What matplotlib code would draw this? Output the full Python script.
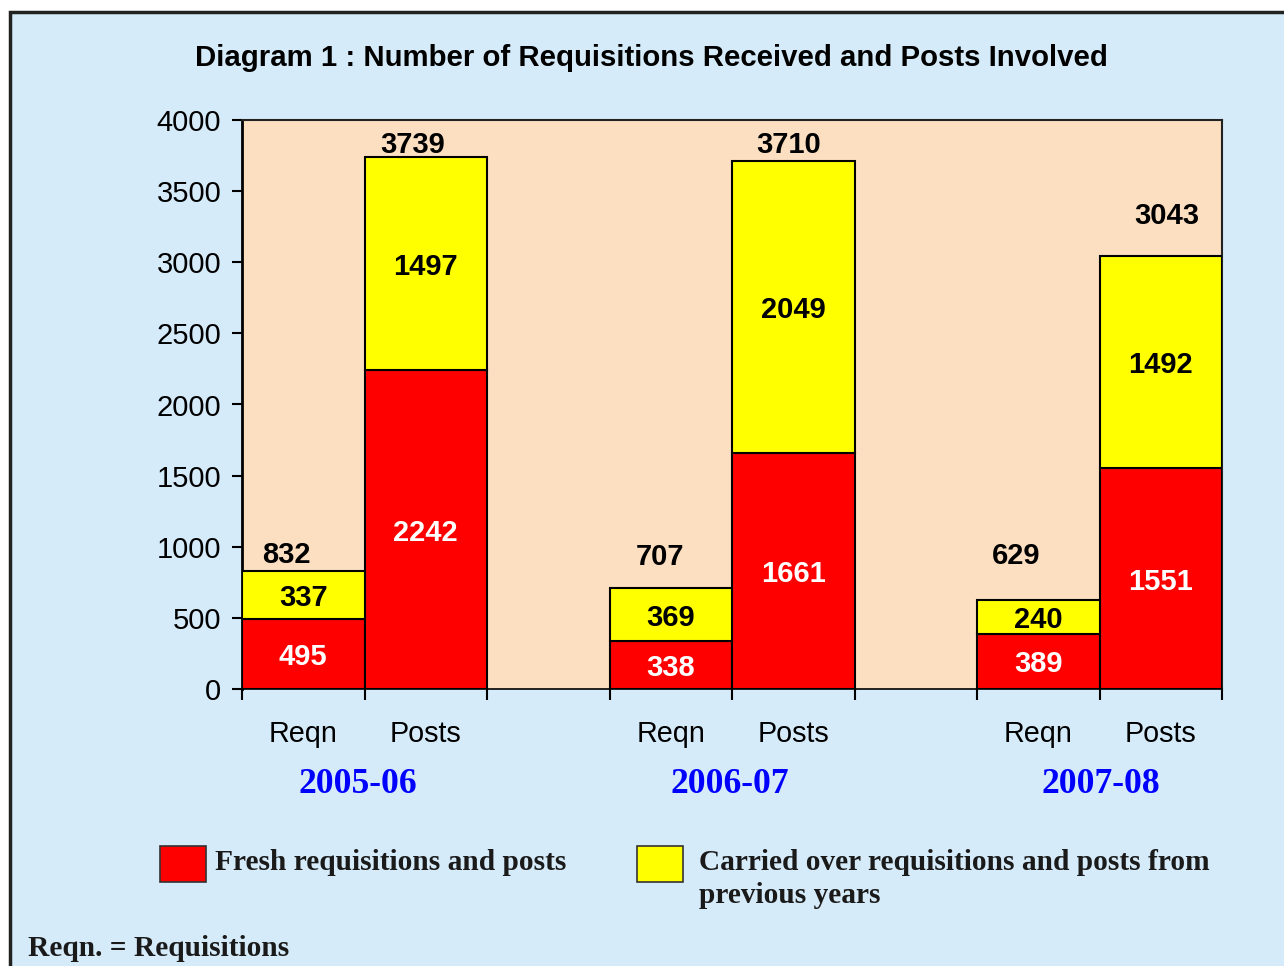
import matplotlib
matplotlib.use("Agg")
import matplotlib.pyplot as plt
from matplotlib.patches import Rectangle

# ---- data ----
years = ["2005-06", "2006-07", "2007-08"]
kinds = ["Reqn", "Posts"]
fresh = [495, 2242, 338, 1661, 389, 1551]          # red segments
carried = [337, 1497, 369, 2049, 240, 1492]        # yellow segments
totals = [832, 3739, 707, 3710, 629, 3043]
yticks = [0, 500, 1000, 1500, 2000, 2500, 3000, 3500, 4000]
title = "Diagram 1 : Number of Requisitions Received and Posts Involved"
legend_labels = ["Fresh requisitions and posts",
                 "Carried over requisitions and posts from\nprevious years"]
footnote = "Reqn. = Requisitions"

# ---- styling / layout ----
W, H = 1284, 966
BLUE_BG = "#D6EBF9"
PEACH = "#FCDFC1"
RED = "#FF0000"
YELLOW = "#FFFF00"
SANS = ["Liberation Sans", "DejaVu Sans"]
SERIF = ["Liberation Serif", "DejaVu Serif"]
positions = [0.5, 1.5, 3.5, 4.5, 6.5, 7.5]
group_centers = [1, 4, 7]
year_dx = [-7, -2, 1]          # pixel nudges of year labels
# total-label offsets (pixels) relative to bar top centre
total_offsets = [(-17, 19), (-13, 15), (-11, 34), (-5, 19), (-22, 47), (6, 43)]
FS = 21
NUDGE = -3 * 0.72   # vertical text nudge (points)

fig = plt.figure(figsize=(W / 100, H / 100), dpi=100, facecolor="white")

# framed blue panel
fig.patches.append(Rectangle((10 / W, -0.05), 1.1, 1 - 12 / H + 0.05,
                             transform=fig.transFigure, facecolor=BLUE_BG,
                             edgecolor="#222222", linewidth=2.5, zorder=-10))

ax = fig.add_axes([242 / W, 1 - 689 / H, (1222 - 242) / W, (689 - 120) / H])
ax.set_facecolor(PEACH)

ax.bar(positions, fresh, width=1.0, color=RED, edgecolor="black", linewidth=1.5, zorder=3)
ax.bar(positions, carried, width=1.0, bottom=fresh, color=YELLOW, edgecolor="black",
       linewidth=1.5, zorder=3)

ax.set_xlim(0, 8)
ax.set_ylim(0, 4000)
ax.set_yticks(yticks)
ax.set_yticklabels([str(v) for v in yticks], fontsize=FS, family=SANS)
ax.set_xticks(range(0, 9))
ax.set_xticklabels([])
ax.tick_params(axis="y", direction="out", length=7, width=1.5, pad=8)
ax.tick_params(axis="x", direction="out", length=8, width=1.5)

ax.spines["left"].set_linewidth(2)
ax.spines["left"].set_color("black")
for s in ["top", "right"]:
    ax.spines[s].set_linewidth(1.5)
    ax.spines[s].set_color("#222222")
ax.spines["bottom"].set_linewidth(1.2)
ax.spines["bottom"].set_color("black")

# value labels
for x, f, c, t, (dx, dy) in zip(positions, fresh, carried, totals, total_offsets):
    ax.annotate(str(f), xy=(x, f / 2), xytext=(0, NUDGE), textcoords="offset points",
                ha="center", va="center", color="white",
                fontsize=FS, fontweight="bold", family=SANS, zorder=5)
    ax.annotate(str(c), xy=(x, f + c / 2), xytext=(0, NUDGE), textcoords="offset points",
                ha="center", va="center", color="black",
                fontsize=FS, fontweight="bold", family=SANS, zorder=5)
    ax.annotate(str(t), xy=(x, t), xytext=(dx * 0.72, dy * 0.72 + NUDGE),
                textcoords="offset points", ha="center", va="center",
                fontsize=FS, fontweight="bold", family=SANS, zorder=5)

# category labels under bars
xt = ax.get_xaxis_transform()
for i, x in enumerate(positions):
    ax.annotate(kinds[i % 2], xy=(x, -0.0756), xycoords=xt, xytext=(0, -2 * 0.72),
                textcoords="offset points", ha="center", va="center",
                fontsize=20.7, family=SANS, annotation_clip=False)
for gc, y, dx in zip(group_centers, years, year_dx):
    ax.annotate(y, xy=(gc, -0.1617), xycoords=xt, xytext=(dx * 0.72, NUDGE),
                textcoords="offset points", ha="center", va="center",
                fontsize=25.7, fontweight="bold", family=SERIF, color="#0000FF",
                annotation_clip=False)

# title
fig.text(651.5 / W, 1 - 58 / H, title, ha="center", va="center",
         fontsize=21.2, fontweight="bold", family=SANS)

# legend (manual)
fig.patches.append(Rectangle((160 / W, 1 - 882 / H), 46 / W, 36 / H, transform=fig.transFigure,
                             facecolor=RED, edgecolor="#333333", linewidth=1.2))
fig.patches.append(Rectangle((637 / W, 1 - 882 / H), 46 / W, 36 / H, transform=fig.transFigure,
                             facecolor=YELLOW, edgecolor="#333333", linewidth=1.2))
fig.text(215 / W, 1 - 849 / H, legend_labels[0], ha="left", va="top",
         fontsize=21.2, fontweight="bold", family=SERIF, color="#1a1a1a")
fig.text(699 / W, 1 - 849 / H, legend_labels[1], ha="left", va="top",
         fontsize=21.2, fontweight="bold", family=SERIF, color="#1a1a1a", linespacing=1.3)
fig.text(28 / W, 1 - 948 / H, footnote, ha="left", va="center",
         fontsize=21.2, fontweight="bold", family=SERIF, color="#1a1a1a")

fig.savefig("out.png", dpi=100, facecolor="white")
